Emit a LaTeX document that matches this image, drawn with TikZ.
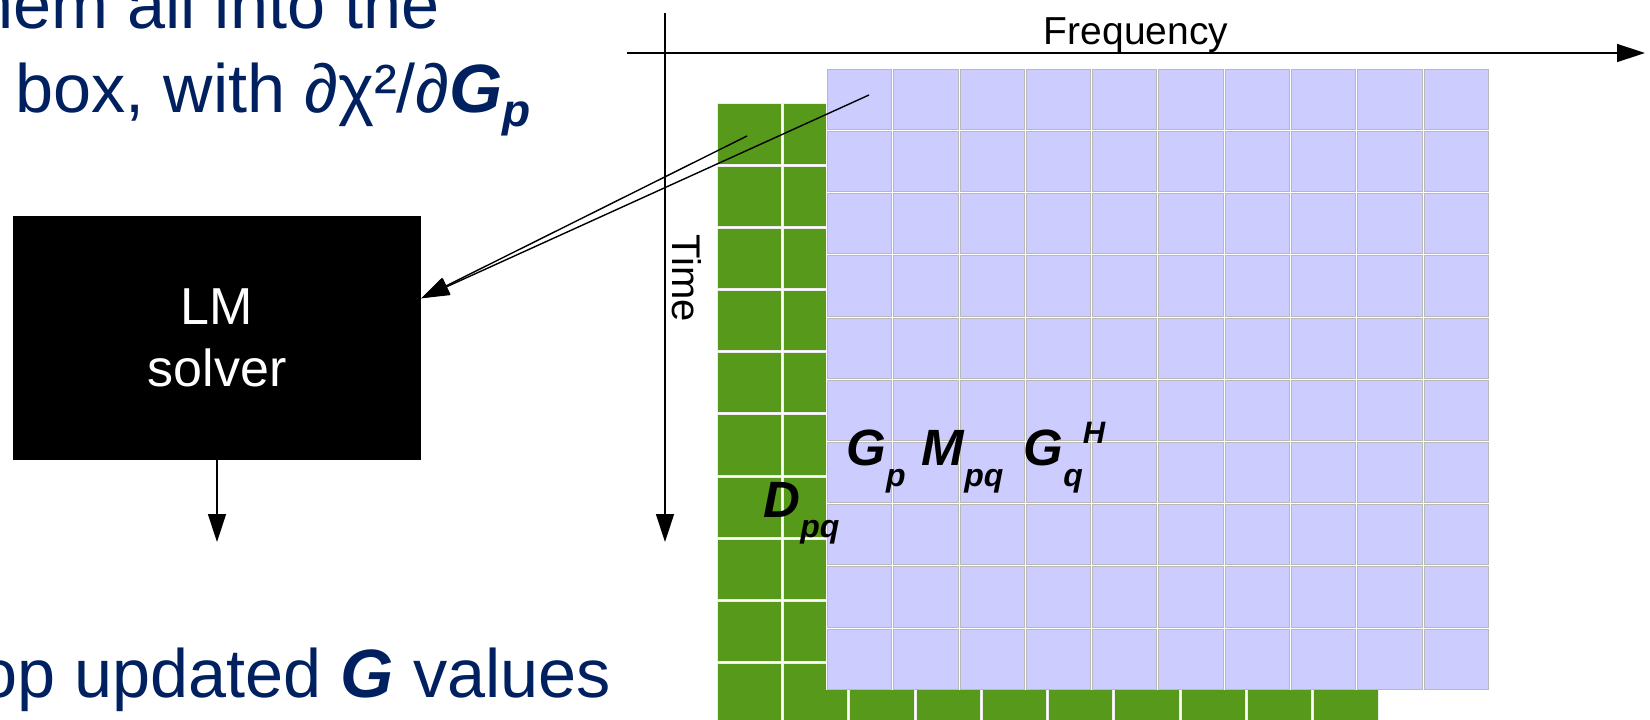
\documentclass[tikz,border=0pt]{standalone}
\usepackage{fontspec}
\setmainfont{Liberation Sans}
\usetikzlibrary{arrows.meta}
\definecolor{navy}{RGB}{0,32,96}
\definecolor{cellblue}{RGB}{204,204,255}
\definecolor{cellgreen}{RGB}{87,153,26}
\newcommand{\subtxt}[3]{\raisebox{-#1pt}{\fontsize{#2}{#2}\selectfont #3}}

\begin{document}
\begin{tikzpicture}[x=1pt, y=-1pt,
    axis/.style={line width=1.4pt, -{Triangle[length=28pt,width=18pt]}},
    greencell/.style={fill=cellgreen, draw=white!85!gray, line width=0.8pt},
    bluecell/.style={fill=cellblue, draw=gray!55, line width=1pt},
    slide/.style={text=navy, font=\fontsize{68.4}{82}\selectfont},
    symb/.style={font=\fontsize{51}{51}\selectfont\bfseries\itshape}]
  \useasboundingbox (0,0) rectangle (1650,720);
  \clip (0,0) rectangle (1650,720);
  % bullet text, cut by the slide edge
  \node[slide, anchor=base west] (line1) at (-28,28) {hem all into the};
  \node[slide, anchor=base west] (line2) at (12,112)
    {box, with ∂χ²/∂\textbf{\textit{G}}\subtxt{14}{46}{\textbf{\textit{p}}}};
  \node[slide, anchor=base west] (line3) at (-24,697)
    {op updated \textbf{\textit{G}} values};
  % solver box
  \node[fill=black, text=white, minimum width=408pt, minimum height=244pt,
    inner sep=0pt, align=center, font=\fontsize{52}{62}\selectfont]
    (solver) at (217,338) {LM\\solver};
  \coordinate (result) at (217,542);
  \draw[axis] (solver) -- (result);
  % data cells
  \foreach \i in {0,...,9}
    \foreach \j in {0,...,9}
      \draw[greencell] ({716+66.3*\i+1},{102.7+62.2*\j+1}) rectangle ++(64.3,60.2);
  % model cells
  \fill[white] (826.4,68.3) rectangle ++(663,622);
  \foreach \i in {0,...,9}
    \foreach \j in {0,...,9}
      \draw[bluecell] ({826.4+66.3*\i+1},{68.3+62.2*\j+1}) rectangle ++(64.3,60.2);
  \node[symb, anchor=base west] (dlabel) at (760,517) {D\subtxt{20}{32}{pq}};
  \node[symb, anchor=base west] (glabel) at (843,465)
    {G\subtxt{21}{32}{p} \hspace{2pt}M\subtxt{21}{32}{pq}\hspace{6pt} G\subtxt{21}{32}{q}\raisebox{22pt}{\fontsize{31}{31}\selectfont H}};
  % axes
  \coordinate (f0) at (627,53);
  \coordinate (f1) at (1645,53);
  \draw[axis] (f0) -- (f1);
  \node[anchor=base, font=\fontsize{39}{39}\selectfont] (freq) at (1136,45) {Frequency};
  \coordinate (t0) at (665,13);
  \coordinate (t1) at (665,542);
  \draw[axis] (t0) -- (t1);
  \node[rotate=-90, anchor=base west, font=\fontsize{40}{40}\selectfont] (time) at (672,231) {Time};
  % derivatives into the solver
  \coordinate (gp) at (869,95);
  \coordinate (dpq) at (747,136);
  \draw[axis] (gp) -- (solver.11);
  \draw[axis] (dpq) -- (solver.11);
\end{tikzpicture}
\end{document}
